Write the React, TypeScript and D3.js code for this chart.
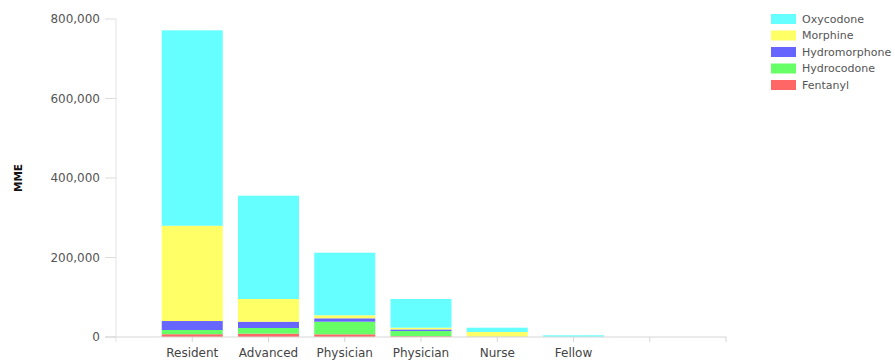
import React from "react";
import * as d3 from "d3";

const categories = ["Resident", "Advanced", "Physician", "Physician", "Nurse", "Fellow", "", ""];
const seriesNames = ["Fentanyl", "Hydrocodone", "Hydromorphone", "Morphine", "Oxycodone"];
const fentanyl = [7000, 8400, 6800, 2000, 300, 0, 0, 0];
const hydrocodone = [10600, 14200, 31700, 13000, 300, 0, 0, 0];
const hydromorphone = [22600, 15900, 8500, 4000, 300, 0, 0, 0];
const morphine = [239700, 57100, 7600, 4400, 11700, 300, 0, 0];
const oxycodone = [491600, 259900, 157400, 72200, 10800, 4000, 0, 0];
const colors = ["#ff6666", "#66ff66", "#6666ff", "#ffff66", "#66ffff"];
const yTicks = [0, 200000, 400000, 600000, 800000];
const legendOrder = ["Oxycodone", "Morphine", "Hydromorphone", "Hydrocodone", "Fentanyl"];

export default function App() {
  const W = 895, H = 360;
  const idx = categories.map((_, i) => String(i + 1));
  const x = d3.scalePoint<string>().domain(["0", ...idx]).range([116, 726]);
  const y = d3.scaleLinear().domain([0, 800000]).range([337, 19]);
  const all = [fentanyl, hydrocodone, hydromorphone, morphine, oxycodone];
  const rows = categories.map((_, i) => {
    const r: any = { key: String(i + 1) };
    seriesNames.forEach((s, j) => (r[s] = all[j][i]));
    return r;
  });
  const stacked = d3.stack().keys(seriesNames)(rows);
  const bw = 61;
  const fmt = d3.format(",");
  const color = (s: string) => colors[seriesNames.indexOf(s)];
  return (
    <svg width={W} height={H} style={{ position: "absolute", left: 0, top: 0, background: "#fff" }}>
      <g fontFamily="DejaVu Sans, Verdana, sans-serif">
        <line x1={116} x2={116} y1={19} y2={342} stroke="#e3e3e3" />
        {yTicks.map((t) => (
          <g key={t}>
            <line x1={105} x2={116} y1={y(t)} y2={y(t)} stroke="#dddddd" />
            <text x={100} y={y(t)} dy="0.36em" textAnchor="end" fontSize={12} fill="#555">
              {fmt(t)}
            </text>
          </g>
        ))}
        <text transform={`translate(22,178) rotate(-90)`} textAnchor="middle" fontSize={10.5} fontWeight="bold" fill="#111">
          MME
        </text>
        {stacked.map((layer) => (
          <g key={layer.key} fill={color(layer.key)}>
            {layer.map((d, i) =>
              d[1] - d[0] > 0 ? (
                <rect key={i} x={(x(String(i + 1)) as number) - bw / 2} width={bw} y={y(d[1])} height={y(d[0]) - y(d[1])} />
              ) : null
            )}
          </g>
        ))}
        <line x1={105} x2={726} y1={337} y2={337} stroke="#d6d6d6" />
        {idx.map((k, i) => (
          <g key={k}>
            <line x1={x(k)} x2={x(k)} y1={337} y2={342} stroke="#d6d6d6" />
            <text x={x(k)} y={357} textAnchor="middle" fontSize={12} fill="#444">
              {categories[i]}
            </text>
          </g>
        ))}
        {legendOrder.map((s, i) => (
          <g key={s} transform={`translate(771,${14 + i * 16.5})`}>
            <rect width={25} height={10} fill={color(s)} />
            <text x={31} y={5} dy="0.36em" fontSize={11} fill="#555">
              {s}
            </text>
          </g>
        ))}
      </g>
    </svg>
  );
}
